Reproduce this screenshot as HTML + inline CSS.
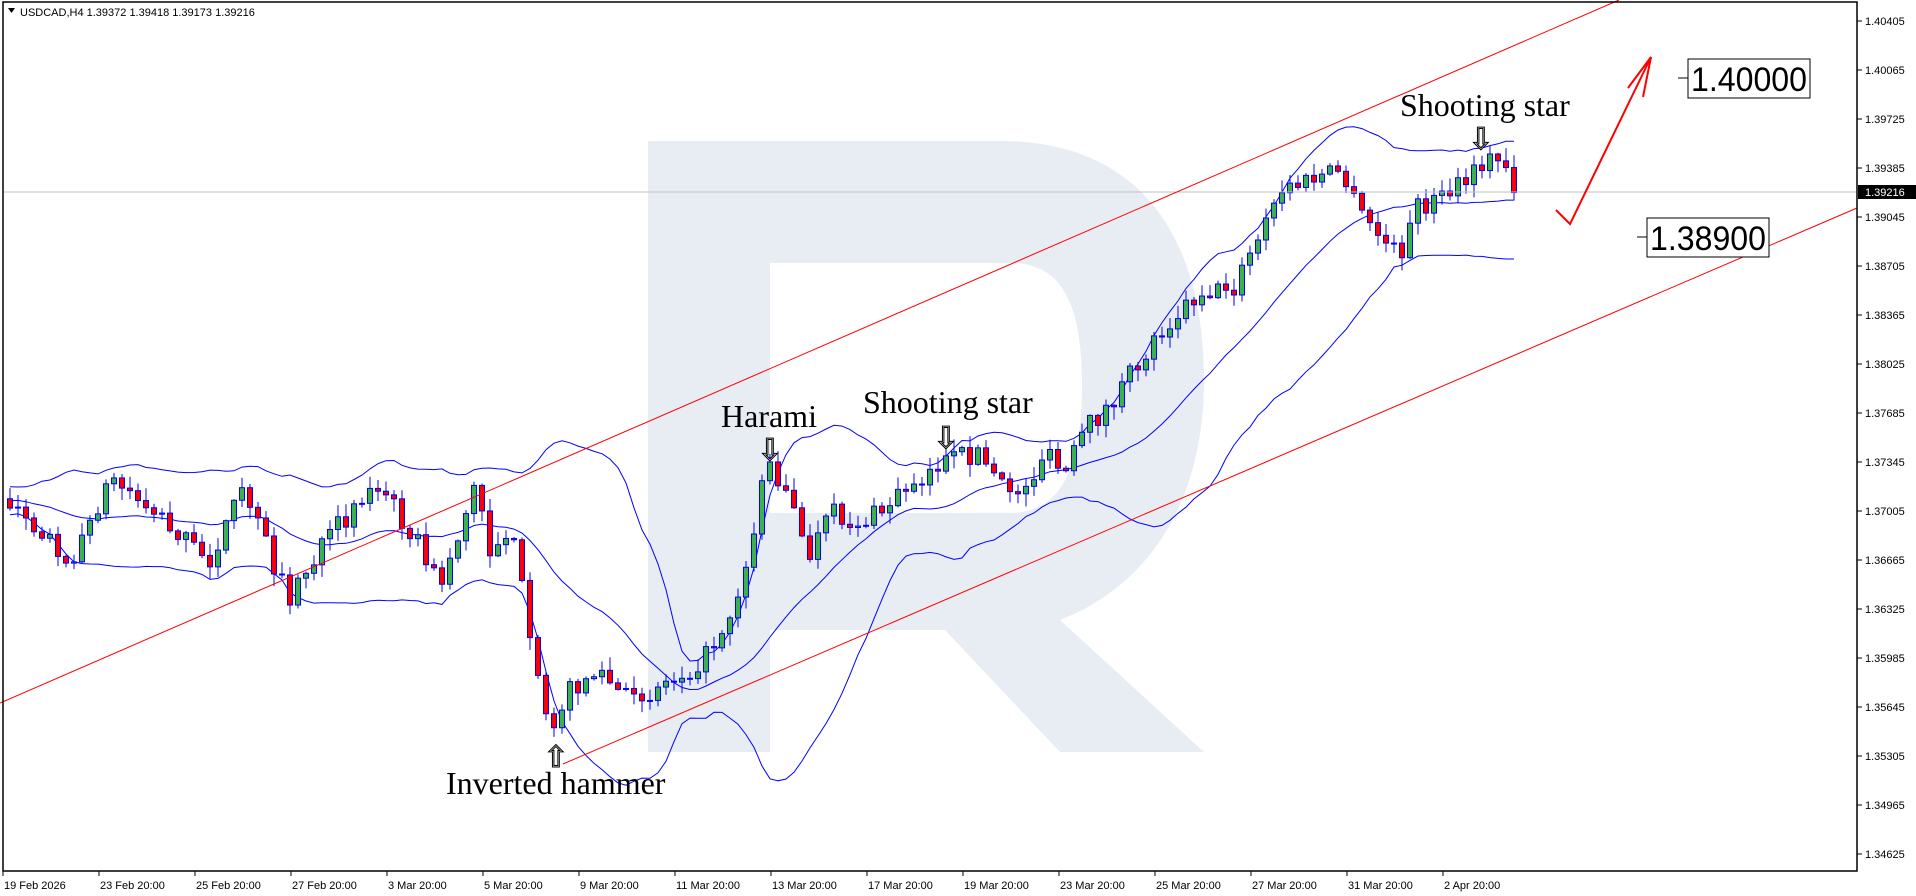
<!DOCTYPE html>
<html><head><meta charset="utf-8"><style>
html,body{margin:0;padding:0;background:#fff;width:1916px;height:896px;overflow:hidden}
svg{display:block}
</style></head><body>
<svg id="s" width="1916" height="896" xmlns="http://www.w3.org/2000/svg" font-family="Liberation Sans, sans-serif">
<rect width="1916" height="896" fill="#fff"/>
<path fill="#e8ecf3" fill-rule="evenodd" d="M648,141 H1000 C1150,141 1204,250 1204,380 C1204,500 1150,585 1060,620 L1204,752 H1060 L945,630 H770 V752 H648 Z M770,263 H1010 C1060,263 1082,300 1082,385 C1082,470 1060,513 1010,513 H770 Z"/>
<g id="bb" fill="none" stroke="#0000ff" stroke-width="1"></g>
<g id="cd"></g>
<line x1="3" y1="192" x2="1857" y2="192" stroke="#c0c0c0"/>
<line x1="0" y1="703" x2="1619" y2="0" stroke="#ff0000" stroke-width="1"/>
<line x1="563" y1="764" x2="1857" y2="208" stroke="#ff0000" stroke-width="1"/>
<polyline points="1556,210 1570,224 1651,57" fill="none" stroke="#ff0000" stroke-width="2"/>
<polyline points="1628,88 1651,57 1643,97" fill="none" stroke="#ff0000" stroke-width="2"/>
<line x1="1678" y1="78" x2="1688" y2="78" stroke="#000"/>
<rect x="1688" y="59" width="122" height="39" fill="#fff" stroke="#000"/>
<text x="1691" y="91" font-size="34" textLength="116" lengthAdjust="spacingAndGlyphs" fill="#000">1.40000</text>
<line x1="1637" y1="237" x2="1647" y2="237" stroke="#000"/>
<rect x="1647" y="218" width="122" height="39" fill="#fff" stroke="#000"/>
<text x="1650" y="250" font-size="34" textLength="116" lengthAdjust="spacingAndGlyphs" fill="#000">1.38900</text>
<g font-family="Liberation Serif, serif" font-size="32" fill="#000">
<text x="721" y="427">Harami</text>
<text x="863" y="413">Shooting star</text>
<text x="1400" y="116">Shooting star</text>
<text x="446" y="794">Inverted hammer</text>
</g>
<g font-size="30" fill="#fff" stroke="#000" stroke-width="1" font-family="DejaVu Sans, sans-serif">
<text x="770" y="460" text-anchor="middle">⇩</text>
<text x="946" y="448" text-anchor="middle">⇩</text>
<text x="1481" y="149" text-anchor="middle">⇩</text>
<text x="556" y="767" text-anchor="middle">⇧</text>
</g>
<rect x="3" y="2" width="1854" height="869" fill="none" stroke="#000" stroke-width="1.5"/>
<g id="ax" font-size="11" fill="#000"></g>
<rect x="1858" y="185" width="58" height="14" fill="#000"/>
<text x="1865" y="196" font-size="11" fill="#fff">1.39216</text>
<path d="M8,8 L15,8 L11.5,13 Z" fill="#000"/>
<text x="20" y="16" font-size="11" fill="#000">USDCAD,H4  1.39372 1.39418 1.39173 1.39216</text>
</svg>
<script>
var NS="http://www.w3.org/2000/svg";
function el(t,a,p){var e=document.createElementNS(NS,t);for(var k in a)e.setAttribute(k,a[k]);p.appendChild(e);return e;}
var ax=document.getElementById('ax');
var prices=["1.40405","1.40065","1.39725","1.39385","1.39045","1.38705","1.38365","1.38025","1.37685","1.37345","1.37005","1.36665","1.36325","1.35985","1.35645","1.35305","1.34965","1.34625"];
for(var i=0;i<prices.length;i++){var y=21+i*49;el('line',{x1:1857,y1:y,x2:1862,y2:y,stroke:'#000'},ax);var t=el('text',{x:1865,y:y+4},ax);t.textContent=prices[i];}
var dates=["19 Feb 2026","23 Feb 20:00","25 Feb 20:00","27 Feb 20:00","3 Mar 20:00","5 Mar 20:00","9 Mar 20:00","11 Mar 20:00","13 Mar 20:00","17 Mar 20:00","19 Mar 20:00","23 Mar 20:00","25 Mar 20:00","27 Mar 20:00","31 Mar 20:00","2 Apr 20:00"];
for(i=0;i<dates.length;i++){var x=3+i*96;el('line',{x1:x,y1:871,x2:x,y2:876,stroke:'#000'},ax);var t=el('text',{x:x+1,y:889},ax);t.textContent=dates[i];}
var kp=[[5,405],[60,460],[90,390],[130,420],[170,460],[200,400],[235,490],[270,440],[300,400],[320,410],[340,440],[360,480],[390,395],[400,450],[420,430],[435,540],[450,592],[470,560],[490,550],[515,575],[540,560],[560,550],[580,535],[600,495],[615,450],[625,380],[632,385],[645,400],[660,460],[680,420],[700,430],[720,420],[745,395],[770,380],[800,370],[820,400],[840,400],[855,370],[870,390],[890,350],[910,330],[930,300],[950,270],[980,240],[1010,235],[1030,195],[1050,155],[1080,145],[1097,140],[1110,170],[1135,200],[1145,210],[1160,170],[1185,160],[1205,145],[1215,130],[1235,135],[1240,158]];
kp=kp.map(function(p){return [p[0]*1.222,p[1]*1.222];});
function interp(x){if(x<=kp[0][0])return kp[0][1];for(var j=1;j<kp.length;j++){if(x<=kp[j][0]){var a=kp[j-1],b=kp[j];return a[1]+(b[1]-a[1])*(x-a[0])/(b[0]-a[0]);}}return kp[kp.length-1][1];}
var seed=7;function rnd(){seed=(seed*16807)%2147483647;return seed/2147483647;}
var N=189,cl=[],bars=[];
var prev=interp(10);
var warm=[];for(i=0;i<20;i++)warm.push(interp(10)+(rnd()-0.5)*30);
for(i=0;i<N;i++){var x=10+8*i;var c=interp(x)+(rnd()-0.5)*22;var o=prev;var h=Math.min(o,c)-rnd()*12-1;var l=Math.max(o,c)+rnd()*12+1;bars.push([x,o,h,l,c]);cl.push(c);prev=c;}
var all=warm.concat(cl);
var up=[],mid=[],lo=[];
for(i=0;i<N;i++){var w=all.slice(i+1,i+21);var m=w.reduce(function(a,b){return a+b},0)/20;var sd=Math.sqrt(w.reduce(function(a,b){return a+(b-m)*(b-m)},0)/20);up.push([bars[i][0],m-2*sd]);mid.push([bars[i][0],m]);lo.push([bars[i][0],m+2*sd]);}
var bb=document.getElementById('bb');
[up,mid,lo].forEach(function(a){el('polyline',{points:a.map(function(p){return p[0].toFixed(1)+','+p[1].toFixed(1)}).join(' ')},bb);});
var cd=document.getElementById('cd');
bars.forEach(function(b){var x=b[0];el('line',{x1:x,y1:b[2],x2:x,y2:b[3],stroke:'#0000ff'},cd);var t=Math.min(b[1],b[4]),hh=Math.max(Math.abs(b[1]-b[4]),1);el('rect',{x:x-2.5,y:t,width:5,height:hh,fill:b[4]<b[1]?'#3cb34a':'#ff0000',stroke:'#0000ff','stroke-width':1},cd);});
</script>
</body></html>
